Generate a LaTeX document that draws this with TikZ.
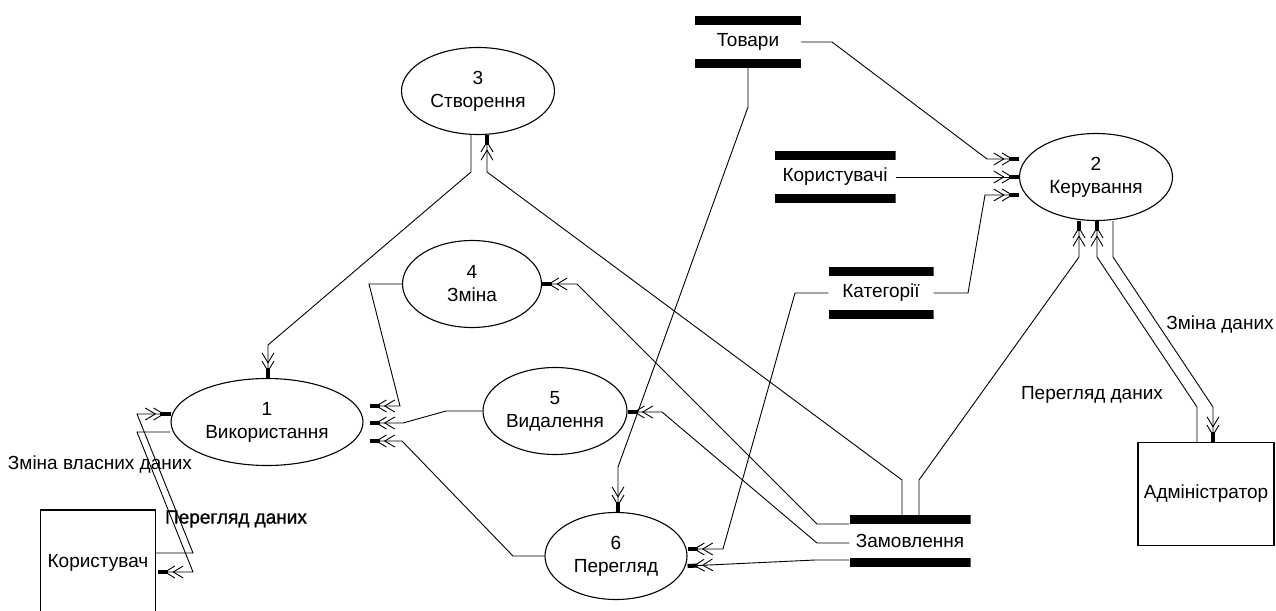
\documentclass[tikz,border=0pt]{standalone}
\usepackage{fontspec}
\setmainfont{Liberation Sans}
\newfontfamily\heavy{Liberation Sans}[FakeBold=1.2]
\usetikzlibrary{shapes.geometric,arrows.meta}

\tikzset{
  process/.style={draw, ellipse, line width=1.1pt, minimum width=#1, minimum height=87pt, inner sep=0pt, align=center},
  datastore/.style={minimum width=#1, minimum height=52pt, inner sep=0pt,
    path picture={
      \fill (path picture bounding box.north west) rectangle ([yshift=-9pt]path picture bounding box.north east);
      \fill (path picture bounding box.south west) rectangle ([yshift=9pt]path picture bounding box.south east);}},
  entity/.style={draw, line width=1.1pt, minimum width=#1, inner sep=0pt},
  flow/.style={line width=0.9pt, -{Straight Barb[length=10pt,width=12pt,sep=-3pt] Straight Barb[length=10pt,width=12pt,sep=-4pt] Rectangle[length=10pt,width=4pt]}},
  lbl/.style={inner sep=0pt}
}

\begin{document}
\begin{tikzpicture}[x=1pt,y=-1pt,font=\fontsize{19}{23}\selectfont]
  \useasboundingbox (0,0) rectangle (1276,610);
  \node[process=153pt] (p3) at (478,91) {3\\Створення};
  \node[process=153pt] (p2) at (1096,177) {2\\Керування};
  \node[process=139pt] (p4) at (472,284) {4\\Зміна};
  \node[process=144pt] (p5) at (555,411) {5\\Видалення};
  \node[process=192pt] (p1) at (267,422) {1\\Використання};
  \node[process=142pt] (p6) at (616,556) {6\\Перегляд};
  \node[datastore=106pt] (tovary) at (748,42) {Товари};
  \node[datastore=121pt] (korystuvachi) at (835,177) {Користувачі};
  \node[datastore=105pt] (katehorii) at (881,293) {Категорії};
  \node[datastore=121pt] (zamovlennia) at (910,541) {Замовлення};
  \node[entity=115pt, minimum height=106pt] (korystuvach) at (98,563) {Користувач};
  \node[entity=136pt, minimum height=103pt] (admin) at (1206,494) {Адміністратор};

  \draw[flow] (tovary.east) -- (832,42) -- (987,159) -- ([yshift=18pt]p2.west);
  \draw[flow] (korystuvachi.east) -- (p2.west);
  \draw[flow] (katehorii.east) -- (968,293) -- (985,195) -- ([yshift=-18pt]p2.west);
  \draw[flow] (tovary.south) -- (748,107) -- (618,467) -- ([xshift=2pt]p6.north);
  \draw[flow] (katehorii.west) -- (795,293) -- (723,549) -- ([yshift=7pt]p6.east);
  \draw[flow] ([yshift=-19pt]zamovlennia.west) -- (815,560) -- ([yshift=-10pt]p6.east);
  \draw[flow] ([yshift=-2pt]zamovlennia.west) -- (817,543) -- (662,412) -- ([yshift=-1pt]p5.east);
  \draw[flow] ([yshift=17pt]zamovlennia.west) -- (817,524) -- (577,284) -- (p4.east);
  \draw[flow] ([xshift=-8pt]zamovlennia.north) -- (902,480) -- (487,172) -- ([xshift=9pt]p3.south);
  \draw[flow] ([xshift=9pt]zamovlennia.north) -- (919,480) -- (1079,257) -- ([xshift=-17pt]p2.south);
  \draw[flow] ([xshift=-9pt]admin.north) -- (1197,407) -- (1097,257) -- ([xshift=1pt]p2.south);
  \draw[flow] ([xshift=17pt]p2.south) -- (1113,257) -- (1213,407) -- ([xshift=7pt]admin.north);
  \draw[flow] ([xshift=-7pt]p3.south) -- (471,172) -- (268,345) -- ([xshift=1pt]p1.north);
  \draw[flow] (p4.west) -- (369,284) -- (400,406) -- ([xshift=6pt,yshift=16pt]p1.east);
  \draw[flow] (p5.west) -- (446,411) -- (403,423) -- ([xshift=6pt,yshift=-1pt]p1.east);
  \draw[flow] (p6.west) -- (513,556) -- (402,441) -- ([xshift=6pt,yshift=-19pt]p1.east);
  \draw[flow] ([yshift=10pt]korystuvach.east) -- (193,553) -- (137,414) -- ([yshift=8pt]p1.west);
  \draw[flow] ([yshift=-10pt]p1.west) -- (137,432) -- (193,572) -- ([xshift=2pt,yshift=-9pt]korystuvach.east);

  \node[lbl] (zminavlasnykh) at (100,465) {Зміна власних даних};
  \node[lbl,font=\heavy\fontsize{19}{23}\selectfont] (perehliadleft) at (236,519) {Перегляд даних};
  \node[lbl] (zminadanykh) at (1220,325) {Зміна даних};
  \node[lbl] (perehliadright) at (1092,395) {Перегляд даних};
\end{tikzpicture}
\end{document}
